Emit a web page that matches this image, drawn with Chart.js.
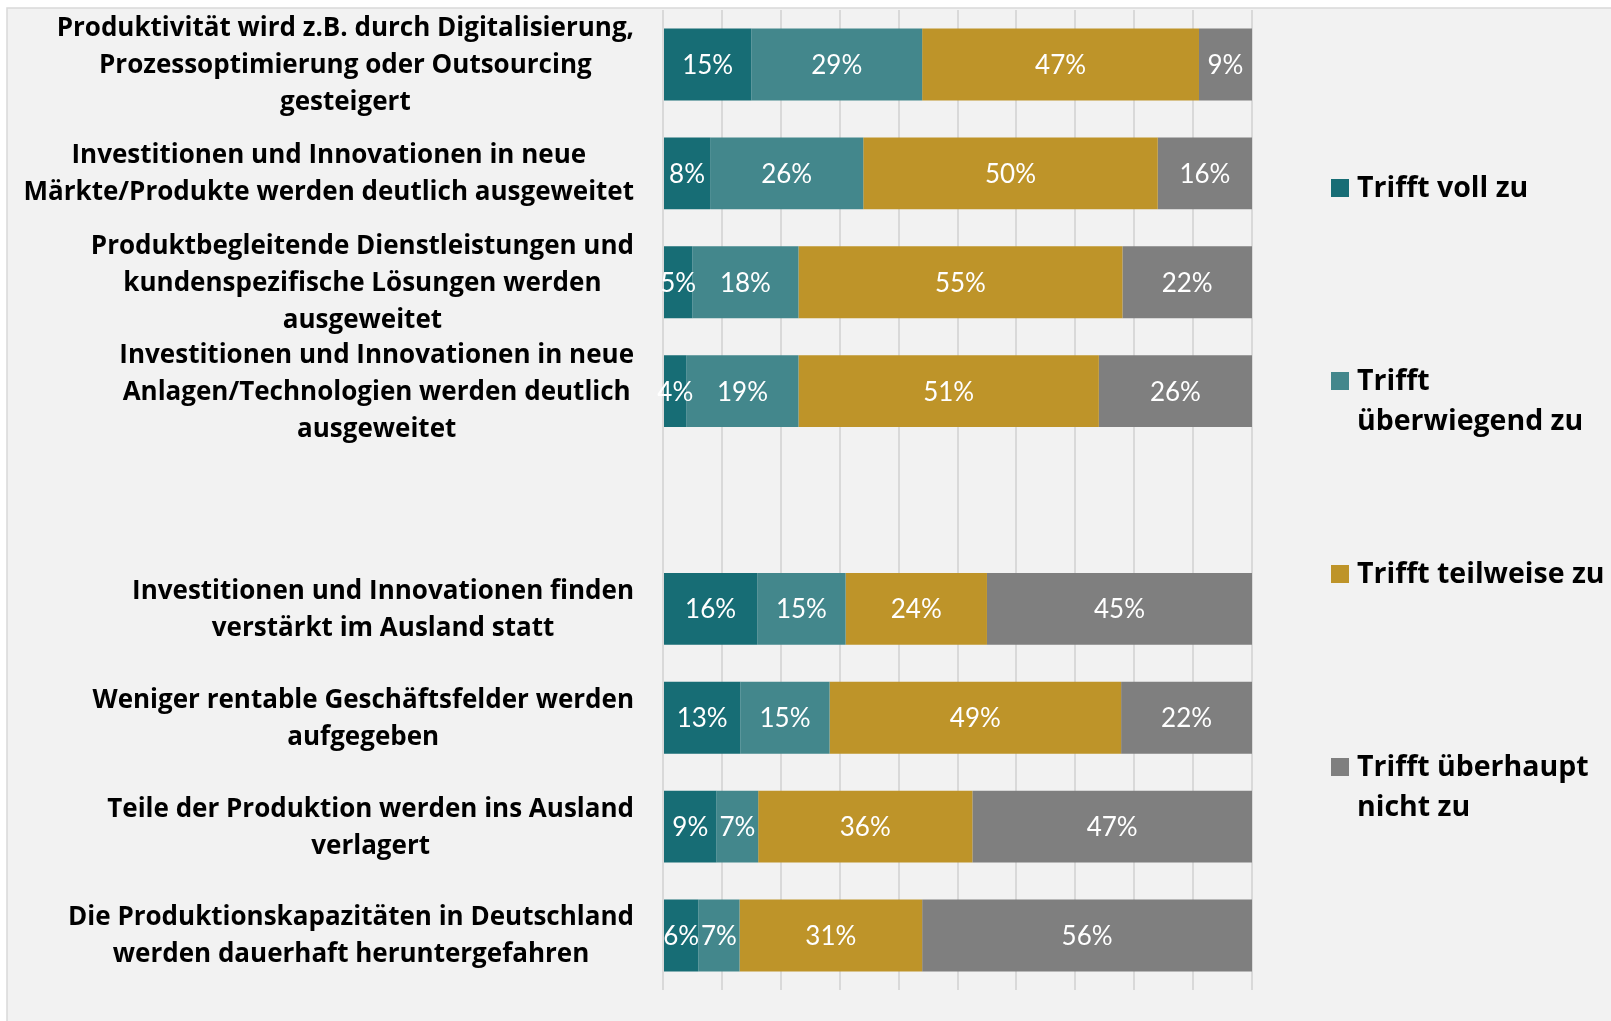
<!DOCTYPE html>
<html lang="de">
<head>
<meta charset="utf-8">
<title>Maßnahmen der Unternehmen</title>
<script src="https://cdn.jsdelivr.net/npm/chart.js@4"></script>
<style>
    html, body { margin: 0; padding: 0; background: #ffffff; }
    #wrap { position: relative; width: 1611px; height: 1021px; }
</style>
</head>
<body>
<div id="wrap"><canvas id="chart"></canvas></div>
<script>
// categories (empty entry = spacer row between the two groups)
const categories = [
    ["Produktivität wird z.B. durch Digitalisierung,", "Prozessoptimierung oder Outsourcing", "gesteigert"],
    ["Investitionen und Innovationen in neue", "Märkte/Produkte werden deutlich ausgeweitet"],
    ["Produktbegleitende Dienstleistungen und", "kundenspezifische Lösungen werden", "ausgeweitet"],
    ["Investitionen und Innovationen in neue", "Anlagen/Technologien werden deutlich", "ausgeweitet"],
    [""],
    ["Investitionen und Innovationen finden", "verstärkt im Ausland statt"],
    ["Weniger rentable Geschäftsfelder werden", "aufgegeben"],
    ["Teile der Produktion werden ins Ausland", "verlagert"],
    ["Die Produktionskapazitäten in Deutschland", "werden dauerhaft heruntergefahren"]
];

const seriesNames = [
    ["Trifft voll zu"],
    ["Trifft", "überwiegend zu"],
    ["Trifft teilweise zu"],
    ["Trifft überhaupt", "nicht zu"]
];

const vollZu          = [15,  8,  5,  4, null, 16, 13,  9,  6];
const ueberwiegend    = [29, 26, 18, 19, null, 15, 15,  7,  7];
const teilweise       = [47, 50, 55, 51, null, 24, 49, 36, 31];
const ueberhauptNicht = [ 9, 16, 22, 26, null, 45, 22, 47, 56];

const seriesColors = ["#176d75", "#43878c", "#be9429", "#7f7f7f"];

const allSeries = [vollZu, ueberwiegend, teilweise, ueberhauptNicht];

// 100% stacked: each row is scaled to its own total
const rowTotals = categories.map((c, i) =>
    allSeries.reduce((s, arr) => s + (arr[i] || 0), 0));

const datasets = allSeries.map((arr, k) => ({
    label: seriesNames[k].join(" "),
    data: arr.map((v, i) => v === null ? null : v / rowTotals[i] * 100),
    rawValues: arr,
    backgroundColor: seriesColors[k],
    borderWidth: 0,
    barPercentage: 0.66,
    categoryPercentage: 1.0
}));

const LABEL_FONT = "'Open Sans', 'Noto Sans', sans-serif";
const VALUE_FONT = "Lato, 'Open Sans', sans-serif";

// grey panel behind everything
const panelPlugin = {
    id: "panel",
    beforeDraw(chart) {
        const ctx = chart.ctx;
        ctx.save();
        ctx.fillStyle = "#f2f2f2";
        ctx.fillRect(7, 8, chart.width - 7, chart.height - 8);
        ctx.strokeStyle = "#d9d9d9";
        ctx.lineWidth = 1.5;
        ctx.beginPath();
        ctx.moveTo(7, chart.height);
        ctx.lineTo(7, 8);
        ctx.lineTo(chart.width, 8);
        ctx.stroke();
        ctx.restore();
    }
};

// percentages inside the segments
const valueLabels = {
    id: "valueLabels",
    afterDatasetsDraw(chart) {
        const ctx = chart.ctx;
        ctx.save();
        ctx.font = "400 26px " + VALUE_FONT;
        ctx.fillStyle = "#ffffff";
        ctx.textAlign = "center";
        ctx.textBaseline = "middle";
        chart.data.datasets.forEach((ds, k) => {
            chart.getDatasetMeta(k).data.forEach((bar, i) => {
                const v = ds.rawValues[i];
                if (v === null) return;
                const p = bar.getCenterPoint();
                ctx.fillText(v + "%", p.x, p.y + 1);
            });
        });
        ctx.restore();
    }
};

// category labels: block right-aligned, lines centred in the block
const categoryLabels = {
    id: "categoryLabels",
    afterDraw(chart) {
        const ctx = chart.ctx;
        const y = chart.scales.y;
        const right = 634;
        const lineH = 37;
        ctx.save();
        ctx.font = "700 26px " + LABEL_FONT;
        ctx.fillStyle = "#000000";
        ctx.textAlign = "center";
        ctx.textBaseline = "middle";
        categories.forEach((lines, i) => {
            const widest = Math.max(...lines.map(l => ctx.measureText(l).width));
            const cx = right - widest / 2;
            const cy = y.getPixelForValue(i) + 1;
            lines.forEach((l, j) => {
                ctx.fillText(l, cx, cy + (j - (lines.length - 1) / 2) * lineH);
            });
        });
        ctx.restore();
    }
};

// legend on the right, items spread down the side
const sideLegend = {
    id: "sideLegend",
    afterDraw(chart) {
        const ctx = chart.ctx;
        const x0 = 1331, box = 18, textX = 1357;
        const y0 = 188, step = 193, lineH = 40;
        ctx.save();
        ctx.font = "700 28.5px " + LABEL_FONT;
        ctx.textAlign = "left";
        ctx.textBaseline = "middle";
        seriesNames.forEach((lines, k) => {
            const cy = y0 + k * step;
            ctx.fillStyle = seriesColors[k];
            ctx.fillRect(x0, cy - box / 2, box, box);
            ctx.fillStyle = "#000000";
            lines.forEach((l, j) => ctx.fillText(l, textX, cy + 1 + j * lineH));
        });
        ctx.restore();
    }
};

new Chart(document.getElementById("chart"), {
    type: "bar",
    data: {
        labels: categories,
        datasets: datasets
    },
    options: {
        indexAxis: "y",
        responsive: true,
        maintainAspectRatio: false,
        animation: false,
        layout: {
            padding: { left: 663, right: 359, top: 10, bottom: 31 }
        },
        plugins: {
            legend: { display: false },
            tooltip: { enabled: false }
        },
        scales: {
            x: {
                stacked: true,
                min: 0,
                max: 100,
                ticks: { display: false, stepSize: 10 },
                grid: { color: "#d9d9d9", lineWidth: 2, drawTicks: false },
                border: { display: false }
            },
            y: {
                stacked: true,
                display: false
            }
        }
    },
    plugins: [panelPlugin, valueLabels, categoryLabels, sideLegend]
});
</script>
</body>
</html>
